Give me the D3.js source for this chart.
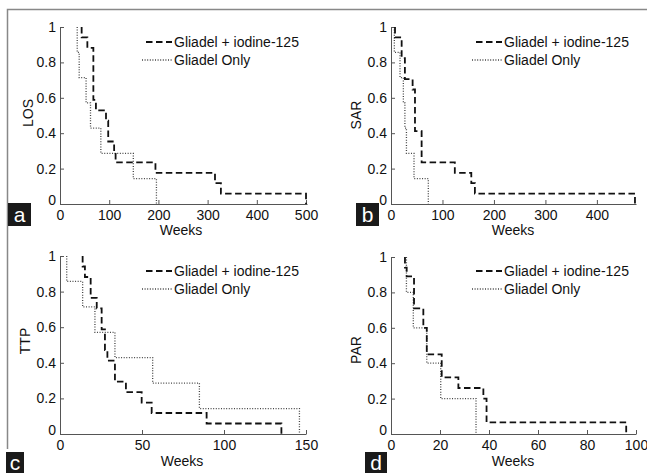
<!DOCTYPE html>
<html>
<head>
<meta charset="utf-8">
<script src="https://cdn.jsdelivr.net/npm/d3@7"></script>
<style>
  body { margin: 0; background: #fff; }
  svg { display: block; font-family: "Liberation Sans", Arial, sans-serif; }
</style>
</head>
<body>
<div id="chart"></div>
<script>
// survival curves: event weeks + survival after the event
var losComboWeeks = [44, 55.6, 67.8, 73, 93.5, 98, 110, 113, 194, 315, 327, 500];
var losComboSurv  = [0.941, 0.882, 0.588, 0.529, 0.471, 0.353, 0.294, 0.235, 0.176, 0.118, 0.059, 0];
var losOnlyWeeks  = [35, 39, 53, 62, 83, 149, 196];
var losOnlySurv   = [0.857, 0.714, 0.571, 0.429, 0.286, 0.143, 0];

var sarComboWeeks = [7.8, 20.7, 27, 42, 46.6, 59.5, 124, 156, 163, 474];
var sarComboSurv  = [0.941, 0.824, 0.706, 0.647, 0.412, 0.235, 0.176, 0.118, 0.059, 0];
var sarOnlyWeeks  = [6.5, 17.5, 24, 27, 30, 44.7, 72.5];
var sarOnlySurv   = [0.857, 0.714, 0.571, 0.429, 0.286, 0.143, 0];

var ttpComboWeeks = [13.8, 15.2, 18.7, 22.4, 25.4, 27.4, 28.9, 33.5, 40.2, 49.8, 55.9, 89.4, 135];
var ttpComboSurv  = [0.941, 0.882, 0.765, 0.706, 0.588, 0.471, 0.412, 0.294, 0.235, 0.176, 0.118, 0.059, 0];
var ttpOnlyWeeks  = [4.1, 13.8, 21.3, 33.5, 56.5, 85, 146];
var ttpOnlySurv   = [0.857, 0.714, 0.571, 0.429, 0.286, 0.143, 0];

var parComboWeeks = [5.7, 6.4, 9.4, 13.2, 14.6, 20.7, 27.5, 37.7, 39, 96];
var parComboSurv  = [0.94, 0.89, 0.71, 0.6, 0.45, 0.32, 0.26, 0.2, 0.066, 0];
var parOnlyWeeks  = [6.3, 9.1, 14.6, 20.3, 34.7];
var parOnlySurv   = [0.8, 0.6, 0.4, 0.2, 0];

var losTicks = [0, 100, 200, 300, 400, 500];
var sarTicks = [0, 100, 200, 300, 400];
var ttpTicks = [0, 50, 100, 150];
var parTicks = [0, 20, 40, 60, 80, 100];
var yTicks = [0, 0.2, 0.4, 0.6, 0.8, 1];
var legendNames = ["Gliadel + iodine-125", "Gliadel Only"];

var width = 647, height = 473;

var svg = d3.select("#chart").append("svg")
  .attr("width", width)
  .attr("height", height);

// outer frame (top and left edges)
svg.append("path")
  .attr("d", "M7.5,449 V9.5 H647")
  .attr("fill", "none")
  .attr("stroke", "#888")
  .attr("stroke-width", 1.5);

var panels = [
  {letter: "a", ylab: "LOS", xmax: 502, ticks: losTicks, combo: [losComboWeeks, losComboSurv], only: [losOnlyWeeks, losOnlySurv],
   left: 60, right: 307, top: 27, bottom: 204, tickPad: 6, weeksX: 181, weeksY: 235, ylabX: 33, ylabY: 113,
   legX: 146, legY: 42, box: [8, 203, 23, 23]},
  {letter: "b", ylab: "SAR", xmax: 476, ticks: sarTicks, combo: [sarComboWeeks, sarComboSurv], only: [sarOnlyWeeks, sarOnlySurv],
   left: 391, right: 636, top: 27, bottom: 204, tickPad: 6, weeksX: 513, weeksY: 235, ylabX: 361, ylabY: 115,
   legX: 476, legY: 42, box: [356, 203, 23, 23]},
  {letter: "c", ylab: "TTP", xmax: 150, ticks: ttpTicks, combo: [ttpComboWeeks, ttpComboSurv], only: [ttpOnlyWeeks, ttpOnlySurv],
   left: 60, right: 306, top: 256, bottom: 434, tickPad: 6, weeksX: 182, weeksY: 466, ylabX: 30, ylabY: 341,
   legX: 146, legY: 271, box: [6, 452, 18, 21]},
  {letter: "d", ylab: "PAR", xmax: 100, ticks: parTicks, combo: [parComboWeeks, parComboSurv], only: [parOnlyWeeks, parOnlySurv],
   left: 391, right: 636, top: 257, bottom: 434, tickPad: 6, weeksX: 513, weeksY: 466, ylabX: 361, ylabY: 350,
   legX: 476, legY: 271, box: [365, 452, 22, 21]}
];

panels.forEach(function(p) {
  var x = d3.scaleLinear().domain([0, p.xmax]).range([p.left, p.right]);
  var y = d3.scaleLinear().domain([0, 1]).range([p.bottom, p.top]);
  var g = svg.append("g");

  // x axis, ticks pointing inward
  var xAxis = g.append("g")
    .attr("transform", "translate(0," + p.bottom + ")")
    .call(d3.axisBottom(x).tickValues(p.ticks).tickSize(-4).tickPadding(p.tickPad).tickSizeOuter(0));
  // y axis
  var yAxis = g.append("g")
    .attr("transform", "translate(" + p.left + ",0)")
    .call(d3.axisLeft(y).tickValues(yTicks).tickSize(-4).tickPadding(4).tickSizeOuter(0)
      .tickFormat(function(d) { return d3.format("~g")(d); }));

  [xAxis, yAxis].forEach(function(a) {
    a.select(".domain").attr("stroke", "#555");
    a.selectAll(".tick line").attr("stroke", "#555");
    a.selectAll(".tick text").attr("fill", "#111").style("font-size", "14px");
  });
  yAxis.selectAll(".tick text").filter(function(d) { return d === 0; }).attr("dy", "0.05em");

  var line = d3.line()
    .x(function(d) { return x(d[0]); })
    .y(function(d) { return y(d[1]); })
    .curve(d3.curveStepAfter);

  function steps(weeks, surv) {
    var pts = [[weeks[0], 1]];
    for (var i = 0; i < weeks.length; i++) pts.push([weeks[i], surv[i]]);
    return pts;
  }

  g.append("path")
    .attr("d", line(steps(p.only[0], p.only[1])))
    .attr("fill", "none")
    .attr("stroke", "#444")
    .attr("stroke-width", 1.3)
    .attr("stroke-dasharray", "1,1.6");

  g.append("path")
    .attr("d", line(steps(p.combo[0], p.combo[1])))
    .attr("fill", "none")
    .attr("stroke", "#111")
    .attr("stroke-width", 1.8)
    .attr("stroke-dasharray", "6.5,3.5");

  // legend
  g.append("line")
    .attr("x1", p.legX).attr("x2", p.legX + 26)
    .attr("y1", p.legY).attr("y2", p.legY)
    .attr("stroke", "#111").attr("stroke-width", 1.8)
    .attr("stroke-dasharray", "6.5,3.5");
  g.append("line")
    .attr("x1", p.legX - 4).attr("x2", p.legX + 26)
    .attr("y1", p.legY + 18).attr("y2", p.legY + 18)
    .attr("stroke", "#444").attr("stroke-width", 1.3)
    .attr("stroke-dasharray", "1,1.6");
  legendNames.forEach(function(name, i) {
    g.append("text")
      .attr("x", p.legX + 28)
      .attr("y", p.legY + 5 + i * 18)
      .attr("fill", "#111")
      .style("font-size", "14px")
      .text(name);
  });

  // axis titles
  g.append("text")
    .attr("x", p.weeksX).attr("y", p.weeksY)
    .attr("text-anchor", "middle")
    .attr("fill", "#111")
    .style("font-size", "14px")
    .text("Weeks");
  g.append("text")
    .attr("transform", "translate(" + p.ylabX + "," + p.ylabY + ") rotate(-90)")
    .attr("text-anchor", "middle")
    .attr("fill", "#111")
    .style("font-size", "14px")
    .text(p.ylab);

  // panel letter
  g.append("rect")
    .attr("x", p.box[0]).attr("y", p.box[1])
    .attr("width", p.box[2]).attr("height", p.box[3])
    .attr("fill", "#1a1a1a");
  g.append("text")
    .attr("x", p.box[0] + p.box[2] / 2)
    .attr("y", p.box[1] + p.box[3] / 2 + 7)
    .attr("text-anchor", "middle")
    .attr("fill", "#fff")
    .style("font-size", "21px")
    .text(p.letter);
});
</script>
</body>
</html>
